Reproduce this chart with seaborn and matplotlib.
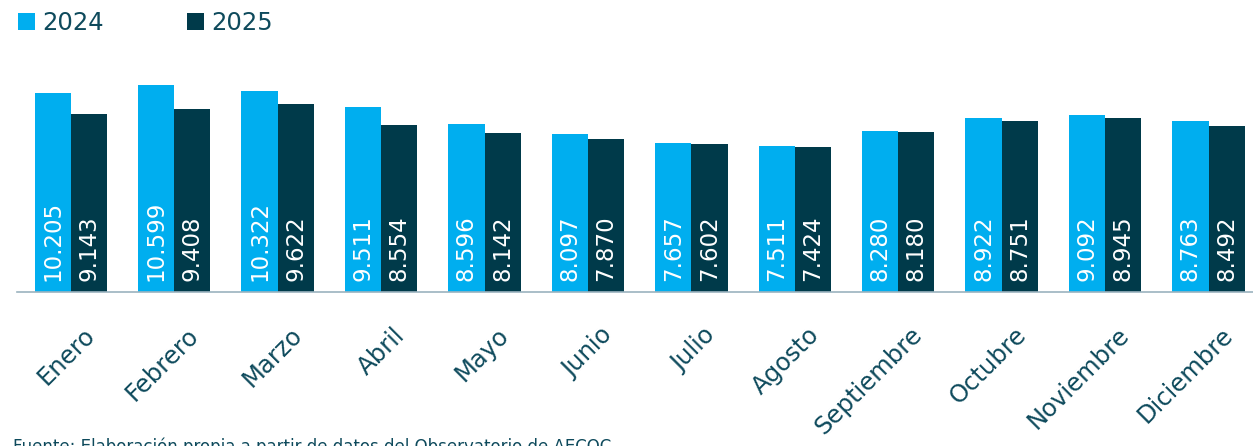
import pandas as pd
import matplotlib.pyplot as plt
import matplotlib.transforms as mtransforms
from matplotlib.patches import Patch
import seaborn as sns

# --- Data ---
meses = ['Enero', 'Febrero', 'Marzo', 'Abril', 'Mayo', 'Junio', 'Julio',
         'Agosto', 'Septiembre', 'Octubre', 'Noviembre', 'Diciembre']
valores_2024 = [10205, 10599, 10322, 9511, 8596, 8097, 7657, 7511, 8280, 8922, 9092, 8763]
valores_2025 = [9143, 9408, 9622, 8554, 8142, 7870, 7602, 7424, 8180, 8751, 8945, 8492]
anios = ['2024', '2025']

fuente = 'Fuente: Elaboración propia a partir de datos del Observatorio de AECOC'

df = pd.DataFrame({
    'mes': meses * 2,
    'anio': ['2024'] * len(meses) + ['2025'] * len(meses),
    'valor': valores_2024 + valores_2025,
})

# --- Style ---
sns.set_style('white')
plt.rcParams['font.family'] = ['DejaVu Sans']
color_2024 = '#00AEEF'
color_2025 = '#003A4A'
text_color = '#0E4A5C'
palette = {'2024': color_2024, '2025': color_2025}

fig = plt.figure(figsize=(12.53, 4.46), dpi=100)
ax = fig.add_axes([17 / 1253, (446 - 292) / 446, 1 - 17 / 1253, 234 / 446])

sns.barplot(data=df, x='mes', y='valor', hue='anio', hue_order=anios,
            order=meses, palette=palette, width=0.7, saturation=1,
            linewidth=0, edgecolor='none', legend=False, ax=ax)

ax.set_xlim(-0.52, 11.43)
ax.set_ylim(0, 12000)
ax.set_xlabel('')
ax.set_ylabel('')
ax.set_yticks([])
for side in ['left', 'right', 'top']:
    ax.spines[side].set_visible(False)
ax.spines['bottom'].set_color('#9BB3BF')
ax.spines['bottom'].set_linewidth(1.2)

# value labels inside the bars, written from the base upward
for container in ax.containers:
    for bar in container:
        v = int(round(bar.get_height()))
        ax.annotate(f'{v:,}'.replace(',', '.'),
                    (bar.get_x() + bar.get_width() / 2, 0),
                    xytext=(0, 8), textcoords='offset points',
                    ha='center', va='bottom', rotation=90,
                    color='white', fontsize=16.5)

# rotated month labels
ax.tick_params(axis='x', length=0, pad=0, labelsize=17.5, labelcolor=text_color)
offset = mtransforms.ScaledTranslation(0.12, -0.31, fig.dpi_scale_trans)
for lbl in ax.get_xticklabels():
    lbl.set_rotation(45)
    lbl.set_rotation_mode('anchor')
    lbl.set_ha('right')
    lbl.set_va('top')
    lbl.set_transform(lbl.get_transform() + offset)

# legend
handles = [Patch(facecolor=palette[a], edgecolor='none', label=a) for a in anios]
leg = fig.legend(handles=handles, loc='upper left',
                 bbox_to_anchor=(18 / 1253, 1 - 11 / 446), ncol=2, frameon=False,
                 fontsize=17.5, handlelength=0.7, handleheight=0.7,
                 handletextpad=0.3, columnspacing=3.4, borderpad=0,
                 borderaxespad=0)
for t in leg.get_texts():
    t.set_color(text_color)

# source note (cut at the bottom edge, as in the original)
fig.text(13 / 1253, 1 - 438 / 446, fuente, ha='left', va='top',
         fontsize=12, color=text_color)

plt.savefig('out.png', dpi=100)
plt.close()
